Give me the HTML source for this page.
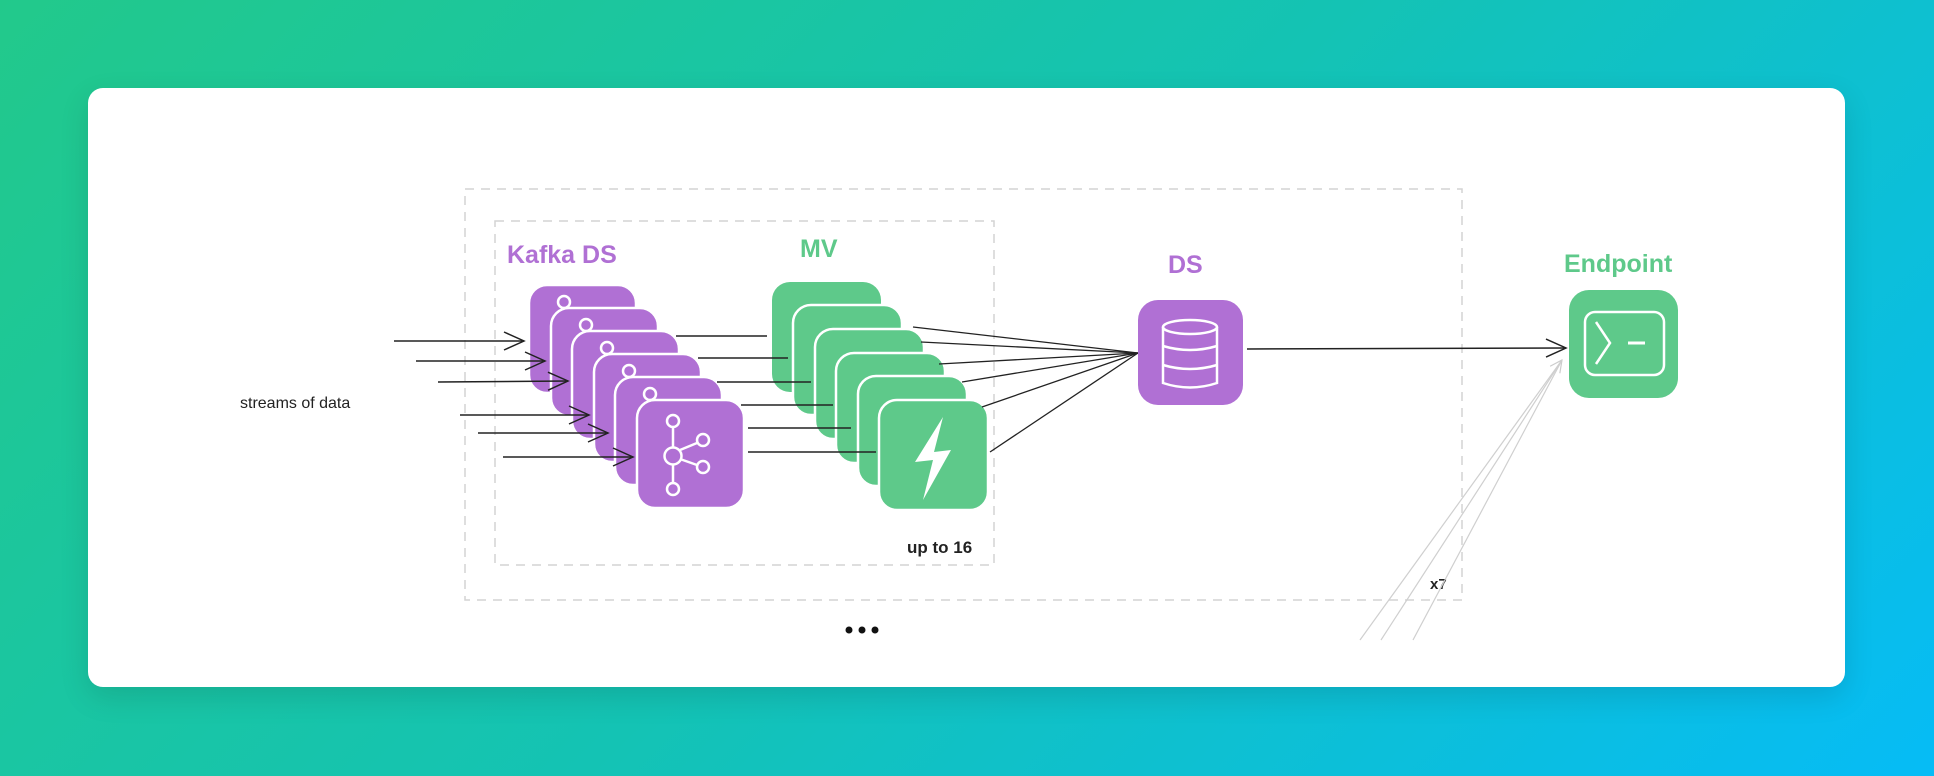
<!DOCTYPE html>
<html><head><meta charset="utf-8"><style>
html,body{margin:0;padding:0}
body{width:1934px;height:776px;overflow:hidden;background:linear-gradient(135deg,#22c98b 0%,#14c3b4 50%,#06bcf6 100%);position:relative;font-family:"Liberation Sans",sans-serif}
.card{position:absolute;left:88px;top:88px;width:1757px;height:599px;background:#fff;border-radius:15px;box-shadow:0 10px 30px rgba(0,0,0,0.12)}
svg{position:absolute;left:0;top:0}
</style></head><body>
<div class="card"></div>
<svg width="1934" height="776" viewBox="0 0 1934 776">
<defs>
<marker id="ah" markerWidth="24" markerHeight="24" refX="22" refY="12" orient="auto" markerUnits="userSpaceOnUse"><path d="M2,3 L22,12 L2,21" fill="none" stroke="#222" stroke-width="1.5"/></marker>
<marker id="ahg" markerWidth="14" markerHeight="14" refX="13" refY="7" orient="auto" markerUnits="userSpaceOnUse"><path d="M1,1 L13,7 L1,13" fill="none" stroke="#ccc" stroke-width="1.2"/></marker>
</defs>
<rect x="465" y="189" width="997" height="411" fill="none" stroke="#d4d4d4" stroke-width="1.5" stroke-dasharray="9,7"/>
<rect x="495" y="221" width="499" height="344" fill="none" stroke="#d4d4d4" stroke-width="1.5" stroke-dasharray="9,7"/>
<g font-size="25" font-weight="bold">
<text x="507" y="263" fill="#b070d4">Kafka DS</text>
<text x="800" y="257" fill="#5ec98a">MV</text>
<text x="1168" y="273" fill="#b070d4">DS</text>
<text x="1564" y="272" fill="#5ec98a">Endpoint</text>
</g>
<text x="240" y="408" font-size="16" fill="#222">streams of data</text>
<text x="907" y="553" font-size="17" fill="#222" font-weight="bold">up to 16</text>
<text x="1430" y="589" font-size="15" fill="#222" font-weight="bold">x7</text>
<circle cx="849" cy="630" r="3.5" fill="#111"/><circle cx="862" cy="630" r="3.5" fill="#111"/><circle cx="875" cy="630" r="3.5" fill="#111"/>
<g stroke="#cfcfcf" stroke-width="1.2" fill="none">
<line x1="1360" y1="640" x2="1562" y2="360" marker-end="url(#ahg)"/>
<line x1="1381" y1="640" x2="1562" y2="360"/>
<line x1="1413" y1="640" x2="1562" y2="360"/>
</g>
<!-- kafka stack -->
<g stroke="#fff" stroke-width="2.5">
<rect x="529" y="285" width="107" height="108" rx="18" fill="#b070d4"/>
<circle cx="564" cy="302" r="6" fill="none"/>
<rect x="551" y="308" width="107" height="108" rx="18" fill="#b070d4"/>
<circle cx="586" cy="325" r="6" fill="none"/>
<rect x="572" y="331" width="107" height="108" rx="18" fill="#b070d4"/>
<circle cx="607" cy="348" r="6" fill="none"/>
<rect x="594" y="354" width="107" height="108" rx="18" fill="#b070d4"/>
<circle cx="629" cy="371" r="6" fill="none"/>
<rect x="615" y="377" width="107" height="108" rx="18" fill="#b070d4"/>
<circle cx="650" cy="394" r="6" fill="none"/>
<rect x="637" y="400" width="107" height="108" rx="18" fill="#b070d4"/>
<g fill="none">
<line x1="673" y1="427" x2="673" y2="448"/>
<line x1="673" y1="464" x2="673" y2="483"/>
<line x1="680" y1="450" x2="697" y2="443"/>
<line x1="680" y1="459" x2="697" y2="465"/>
<circle cx="673" cy="421" r="6"/><circle cx="673" cy="456" r="8.5"/>
<circle cx="703" cy="440" r="6"/><circle cx="703" cy="467" r="6"/><circle cx="673" cy="489" r="6"/>
</g></g>
<!-- input arrows (on top) -->
<g stroke="#222" stroke-width="1.5" fill="none" marker-end="url(#ah)">
<line x1="394" y1="341" x2="524" y2="341"/>
<line x1="416" y1="361" x2="545" y2="361"/>
<line x1="438" y1="382" x2="568" y2="381"/>
<line x1="460" y1="415" x2="589" y2="415"/>
<line x1="478" y1="433" x2="608" y2="433"/>
<line x1="503" y1="457" x2="633" y2="457"/>
</g>
<!-- MV stack -->
<g stroke="#fff" stroke-width="2.5" fill="#5ec98a">
<rect x="772" y="282" width="109" height="110" rx="18" stroke="none"/>
<rect x="793" y="305" width="109" height="110" rx="18"/>
<rect x="815" y="329" width="109" height="110" rx="18"/>
<rect x="836" y="353" width="109" height="110" rx="18"/>
<rect x="858" y="376" width="109" height="110" rx="18"/>
<rect x="879" y="400" width="109" height="110" rx="18"/>
<polygon points="943,417 915,462 933,460 923,500 951,450 934,452" fill="#fff" stroke="none"/>
</g>
<!-- kafka->MV lines (on top) -->
<g stroke="#222" stroke-width="1.5">
<line x1="676" y1="336" x2="767" y2="336"/>
<line x1="698" y1="358" x2="788" y2="358"/>
<line x1="717" y1="382" x2="811" y2="382"/>
<line x1="741" y1="405" x2="833" y2="405"/>
<line x1="748" y1="428" x2="851" y2="428"/>
<line x1="748" y1="452" x2="876" y2="452"/>
</g>
<g stroke="#222" stroke-width="1.3">
<line x1="913" y1="327" x2="1138" y2="353"/>
<line x1="921" y1="342" x2="1138" y2="353"/>
<line x1="939" y1="364" x2="1138" y2="353"/>
<line x1="962" y1="382" x2="1138" y2="353"/>
<line x1="982" y1="407" x2="1138" y2="353"/>
<line x1="990" y1="452" x2="1138" y2="353"/>
</g>
<rect x="1138" y="300" width="105" height="105" rx="20" fill="#b070d4"/>
<g stroke="#fff" stroke-width="2.5" fill="none">
<ellipse cx="1190" cy="327" rx="27" ry="7"/>
<path d="M1163,327 V383 Q1190,392 1217,383 V327"/>
<path d="M1163,346 Q1190,354 1217,346"/>
<path d="M1163,365 Q1190,373 1217,365"/>
</g>
<line x1="1247" y1="349" x2="1566" y2="348" stroke="#222" stroke-width="1.5" marker-end="url(#ah)"/>
<rect x="1569" y="290" width="109" height="108" rx="20" fill="#5ec98a"/>
<rect x="1585" y="312" width="79" height="63" rx="10" fill="none" stroke="#fff" stroke-width="2.5"/>
<path d="M1596,322 L1610,343 L1596,364" fill="none" stroke="#fff" stroke-width="2.5"/>
<line x1="1628" y1="343" x2="1645" y2="343" stroke="#fff" stroke-width="3"/>
</svg>
</body></html>
